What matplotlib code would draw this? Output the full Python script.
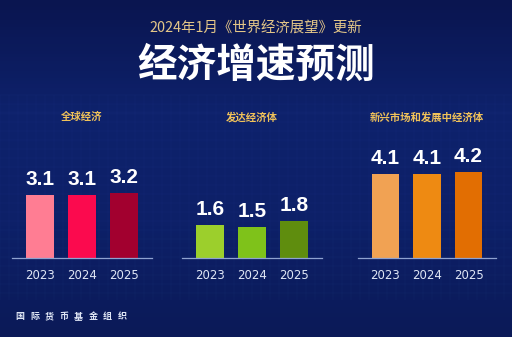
import matplotlib
matplotlib.use("Agg")
import matplotlib.pyplot as plt
import numpy as np

plt.rcParams['font.family'] = ['Noto Sans CJK SC', 'DejaVu Sans']

years = ["2023", "2024", "2025"]
panel_titles = ["全球经济", "发达经济体", "新兴市场和发展中经济体"]
world = [3.1, 3.1, 3.2]
advanced = [1.6, 1.5, 1.8]
emerging = [4.1, 4.1, 4.2]
series = [world, advanced, emerging]
colors = [
    ["#ff7d93", "#fb0a4e", "#a2002f"],
    ["#9ccf2c", "#7fc21a", "#5f8d0e"],
    ["#f1a253", "#ee8a12", "#e26e02"],
]
footer = "国际货币基金组织"

W, H = 512, 337
fig = plt.figure(figsize=(W / 100, H / 100), dpi=100)
fig.patch.set_facecolor("#0c1c5c")

# subtle background texture (grid)
bg = fig.add_axes([0, 0, 1, 1], zorder=-5)
bg.set_xlim(0, W); bg.set_ylim(H, 0); bg.axis("off")
grad = np.linspace(0, 1, 100).reshape(-1, 1)
bg.imshow(grad, extent=[0, W, H, 0], aspect="auto",
          cmap=matplotlib.colors.LinearSegmentedColormap.from_list(
              "bgc", ["#0a1550", "#0e226c", "#0d2068", "#0b1a58"]))
for gx in np.arange(0, W, 9):
    bg.plot([gx, gx], [95, 300], color="#2a4a9a", lw=0.3, alpha=0.22)
for gy in np.arange(95, 300, 9):
    bg.plot([0, W], [gy, gy], color="#2a4a9a", lw=0.3, alpha=0.22)

# titles
fig.text(256 / W, 1 - 29 / H, "2024年1月《世界经济展望》更新", color="#e3c688",
         fontsize=10.4, ha="center", va="center")
fig.text(256 / W, 1 - 65 / H, "经济增速预测", color="white",
         fontsize=28.5, fontweight="bold", ha="center", va="center")
for k, ch in enumerate(footer):
    fig.text((20 + k * 14.6) / W, 1 - 317 / H, ch, color="#dfe6f5",
             fontsize=6.5, fontweight="bold", ha="center", va="center")

# panels: axis line pixel extents
panel_px = [(12, 152), (182, 322), (358, 496)]
title_x = [82, 252, 427]
base_y = 258
px_per_unit = 20.4
ymax = 6.0
for i in range(3):
    x0, x1 = panel_px[i]
    ax = fig.add_axes([x0 / W, (H - base_y) / H, (x1 - x0) / W,
                       ymax * px_per_unit / H])
    ax.set_facecolor("none")
    xs = np.arange(3)
    ax.bar(xs, series[i], width=0.65, color=colors[i])
    ax.set_xlim(-0.66, 2.66)
    ax.set_ylim(0, ymax)
    for s in ["top", "right", "left"]:
        ax.spines[s].set_visible(False)
    ax.spines["bottom"].set_color("#8fa2d0")
    ax.spines["bottom"].set_linewidth(0.9)
    ax.set_yticks([])
    ax.set_xticks(xs)
    ax.set_xticklabels(years, color="#dfe6f5", fontsize=8.5, family="DejaVu Sans")
    ax.tick_params(axis="x", length=0, pad=8)
    for x, v in zip(xs, series[i]):
        ax.text(x, v + 0.3, f"{v:.1f}", color="white", fontsize=15,
                fontweight="bold", ha="center", va="bottom",
                family="Liberation Sans")
    fig.text(title_x[i] / W, 1 - 117 / H, panel_titles[i], color="#f0c25a",
             fontsize=7.5, fontweight="bold", ha="center", va="center")

fig.savefig("out.png", dpi=100, facecolor=fig.get_facecolor())
